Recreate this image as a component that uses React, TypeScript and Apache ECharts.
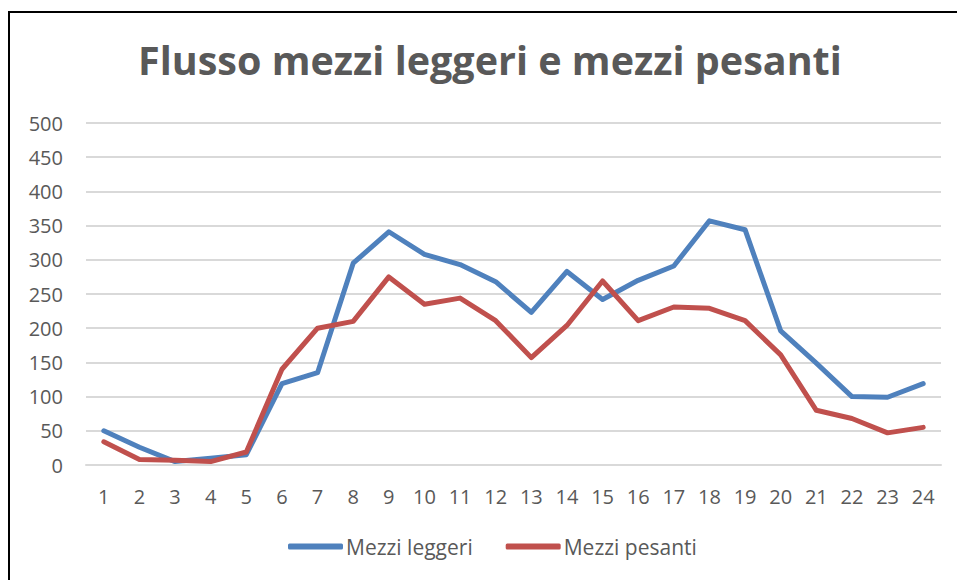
import React, { useEffect, useRef } from "react";
import * as echarts from "echarts";

const hours = ["1","2","3","4","5","6","7","8","9","10","11","12","13","14","15","16","17","18","19","20","21","22","23","24"];
const mezziLeggeri = [50, 26, 5, 10, 15, 119, 135, 295, 341, 308, 293, 268, 223, 283, 242, 270, 291, 357, 344, 196, 149, 100, 99, 119];
const mezziPesanti = [34, 8, 7, 5, 19, 140, 200, 210, 275, 235, 244, 211, 157, 204, 269, 211, 231, 229, 211, 161, 80, 68, 47, 55];
const titleText = "Flusso mezzi leggeri e mezzi pesanti";

const FONT = "'Open Sans', sans-serif";
const TEXT = "#595959";

export default function App() {
  const ref = useRef<HTMLDivElement>(null);
  useEffect(() => {
    if (!ref.current) return;
    const chart = echarts.init(ref.current, null, { renderer: "svg" });
    chart.setOption({
      animation: false,
      backgroundColor: "#ffffff",
      title: {
        text: titleText,
        left: 138,
        top: 40,
        padding: 0,
        textStyle: { fontFamily: FONT, fontSize: 39.5, fontWeight: "bold", color: TEXT },
      },
      graphic: [
        {
          type: "rect",
          shape: { x: 9, y: 12, width: 980, height: 600 },
          style: { fill: "none", stroke: "#000000", lineWidth: 2 },
          silent: true,
        },
      ],
      legend: {
        left: 288,
        top: 536,
        padding: 0,
        itemGap: 33,
        itemWidth: 55,
        itemHeight: 6,
        icon: "roundRect",
        textStyle: { fontFamily: FONT, fontSize: 21, color: TEXT, padding: [0, 0, 0, -2] },
        data: ["Mezzi leggeri", "Mezzi pesanti"],
      },
      grid: { left: 86, right: 16, top: 123, bottom: 115, containLabel: false },
      xAxis: {
        type: "category",
        data: hours,
        boundaryGap: true,
        axisTick: { show: false },
        axisLine: { lineStyle: { color: "#d9d9d9", width: 2 } },
        axisLabel: { fontFamily: FONT, fontSize: 20, color: TEXT, margin: 21, interval: 0 },
      },
      yAxis: {
        type: "value",
        min: 0,
        max: 500,
        interval: 50,
        axisLine: { show: false },
        axisTick: { show: false },
        splitLine: { lineStyle: { color: "#d9d9d9", width: 2 } },
        axisLabel: { fontFamily: FONT, fontSize: 20, color: TEXT, margin: 23 },
      },
      series: [
        {
          name: "Mezzi leggeri",
          type: "line",
          data: mezziLeggeri,
          symbol: "none",
          itemStyle: { color: "#4f81bd" },
          lineStyle: { color: "#4f81bd", width: 5, cap: "round", join: "round" },
        },
        {
          name: "Mezzi pesanti",
          type: "line",
          data: mezziPesanti,
          symbol: "none",
          itemStyle: { color: "#c0504d" },
          lineStyle: { color: "#c0504d", width: 5, cap: "round", join: "round" },
        },
      ],
    });
    return () => chart.dispose();
  }, []);
  return (
    <div
      ref={ref}
      style={{ position: "fixed", left: 0, top: 0, width: 957, height: 580 }}
    />
  );
}
